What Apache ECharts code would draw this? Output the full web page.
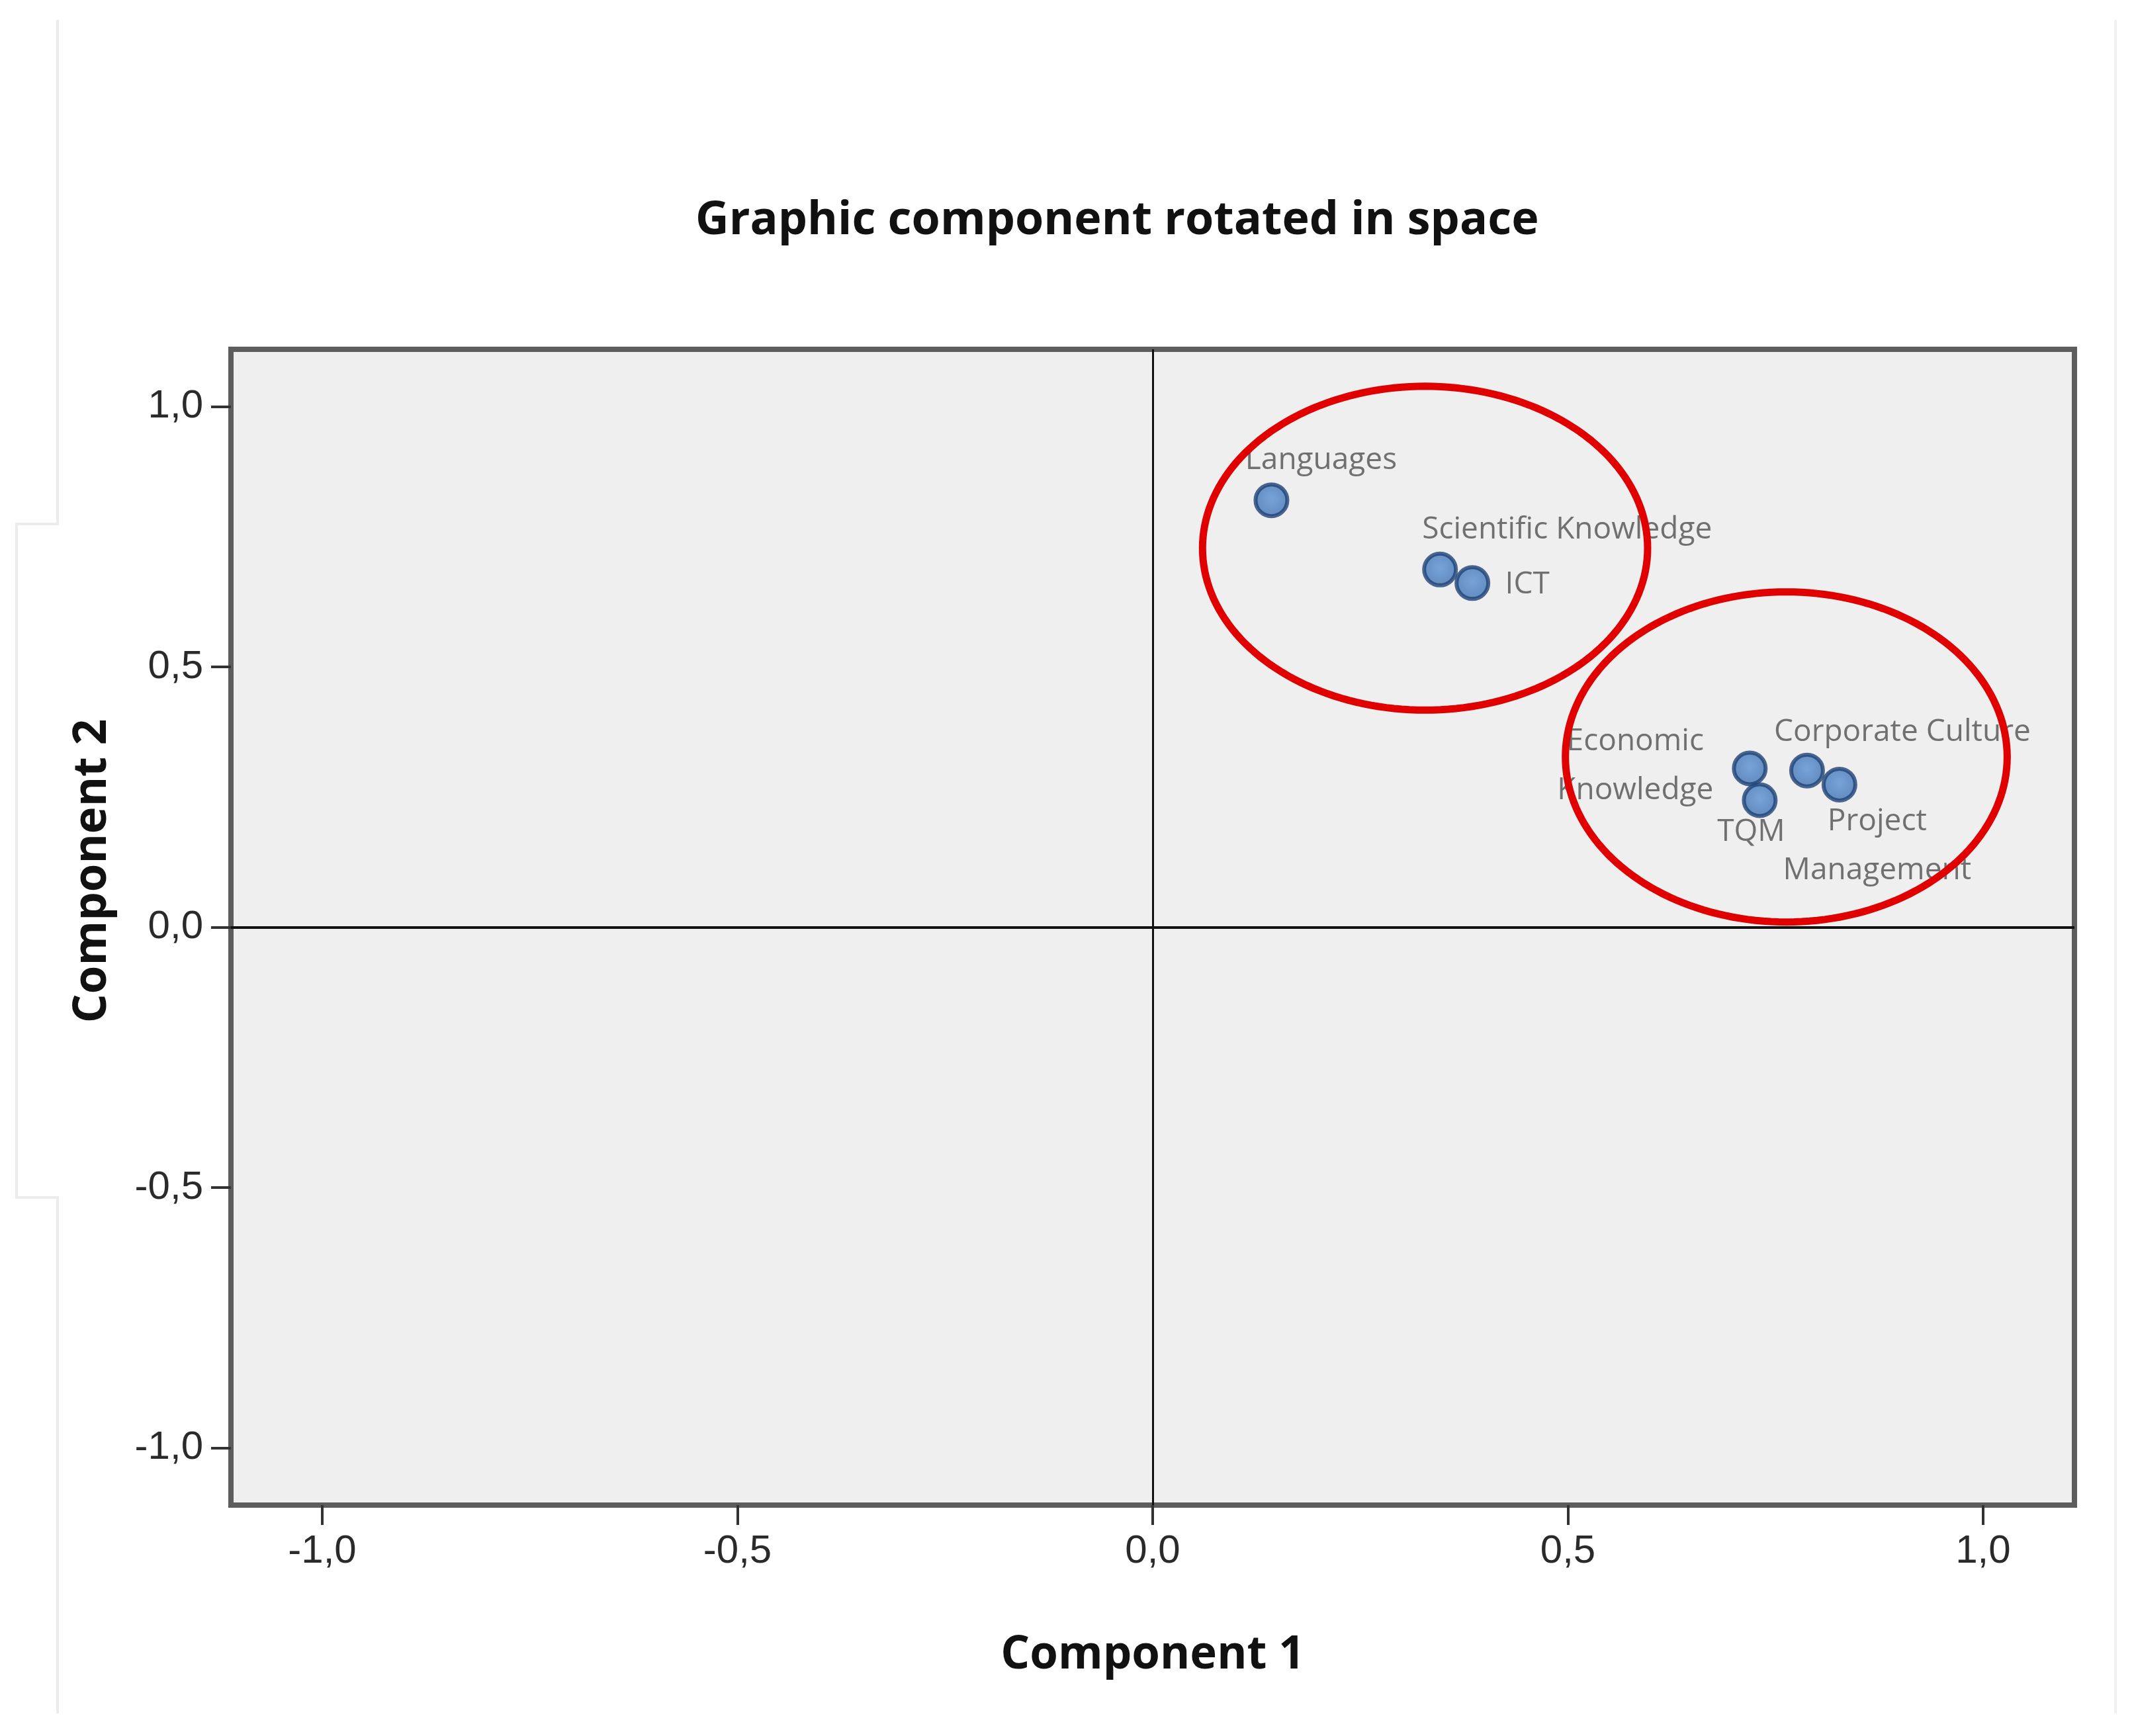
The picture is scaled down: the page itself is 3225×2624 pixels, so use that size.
<!DOCTYPE html>
<html>
<head>
<meta charset="utf-8" />
<title>Graphic component rotated in space</title>
<script src="https://cdn.jsdelivr.net/npm/echarts@6/dist/echarts.min.js"></script>
<style>
  html, body { margin: 0; padding: 0; background: #fff; }
  #main { width: 3225px; height: 2624px; }
</style>
</head>
<body>
<div id="main"></div>
<script>
// loadings
var itemNames = ["Languages", "Scientific Knowledge", "ICT", "Economic\nKnowledge", "TQM", "Corporate Culture", "Project\nManagement"];
var component1 = [0.143, 0.346, 0.385, 0.719, 0.731, 0.788, 0.827];
var component2 = [0.820, 0.687, 0.661, 0.305, 0.244, 0.301, 0.274];

var tickValues = [-1, -0.5, 0, 0.5, 1];
var tickLabels = ["-1,0", "-0,5", "0,0", "0,5", "1,0"];

// the two red rings (centre and radii in axis units)
var ringCx = [0.328, 0.763];
var ringCy = [0.728, 0.327];
var ringRx = [0.268, 0.266];
var ringRy = [0.311, 0.317];

// where each point label sits relative to its point (px)
var labelOffset = {
  "Languages": [75, -60],
  "Scientific Knowledge": [192, -60],
  "ICT": [83, 3],
  "Economic\nKnowledge": [-173, -4],
  "TQM": [-13, 48],
  "Corporate Culture": [144, -58],
  "Project\nManagement": [57, 93]
};

function tickFmt(v) {
  var i = tickValues.indexOf(Math.round(v * 10) / 10);
  return i >= 0 ? tickLabels[i] : "";
}

var points = itemNames.map(function (n, i) {
  return { name: n, value: [component1[i], component2[i]], label: { offset: labelOffset[n] } };
});
var rings = ringCx.map(function (c, i) {
  return [c, ringCy[i], ringRx[i], ringRy[i]];
});

var chart = echarts.init(document.getElementById("main"), null, { renderer: "canvas" });

var option = {
  animation: false,
  backgroundColor: "#ffffff",
  title: {
    text: "Graphic component rotated in space",
    left: 1046,
    top: 294,
    textStyle: { fontFamily: "Open Sans", fontWeight: "bold", fontSize: 70, color: "#111" }
  },
  grid: {
    left: 349, top: 528, width: 2786, height: 1747,
    show: true,
    backgroundColor: "#efefef",
    borderColor: "#5d5d5d",
    borderWidth: 8,
    outerBoundsMode: "none"
  },
  xAxis: {
    type: "value",
    min: -1.11, max: 1.11,
    position: "bottom",
    axisLine: { show: false, onZero: false },
    splitLine: { show: false },
    axisTick: { show: true, inside: false, customValues: tickValues, length: 30, lineStyle: { color: "#333", width: 4 } },
    axisLabel: { customValues: tickValues, formatter: tickFmt, margin: 40, fontSize: 60, fontFamily: "Liberation Sans", color: "#2a2a2a" },
    name: "Component 1",
    nameLocation: "middle",
    nameGap: 193,
    nameTextStyle: { fontFamily: "Open Sans", fontWeight: "bold", fontSize: 69, color: "#111" }
  },
  yAxis: {
    type: "value",
    min: -1.11, max: 1.11,
    position: "left",
    axisLine: { show: false, onZero: false },
    splitLine: { show: false },
    axisTick: { show: true, inside: false, customValues: tickValues, length: 30, lineStyle: { color: "#333", width: 4 } },
    axisLabel: { customValues: tickValues, formatter: tickFmt, margin: 42, fontSize: 60, fontFamily: "Liberation Sans", color: "#2a2a2a" },
    name: "Component 2",
    nameLocation: "middle",
    nameGap: 174,
    nameTextStyle: { fontFamily: "Open Sans", fontWeight: "bold", fontSize: 69, color: "#111", padding: [0, 0, 0, 170] }
  },
  graphic: [
    { type: "polyline", silent: true, shape: { points: [[87, 30], [87, 792], [25, 792], [25, 1810], [87, 1810], [87, 2590]] }, style: { stroke: "#ececec", lineWidth: 4, fill: null } },
    { type: "line", silent: true, shape: { x1: 3197, y1: 30, x2: 3197, y2: 2590 }, style: { stroke: "#f1f1f1", lineWidth: 4 } }
  ],
  series: [
    {
      type: "scatter",
      data: points,
      symbol: "circle",
      symbolSize: 48,
      itemStyle: {
        color: {
          type: "radial", x: 0.5, y: 0.45, r: 0.6,
          colorStops: [{ offset: 0, color: "#5890d4" }, { offset: 1, color: "#3b6dac" }]
        },
        borderColor: "#1f4274",
        borderWidth: 6
      },
      label: {
        show: true,
        position: "inside",
        formatter: "{b}",
        fontFamily: "Open Sans",
        fontSize: 46,
        lineHeight: 74,
        color: "#505050",
        align: "center"
      },
      markLine: {
        silent: true,
        symbol: ["none", "none"],
        label: { show: false },
        lineStyle: { color: "#111", type: "solid", width: 4 },
        data: [{ xAxis: 0, lineStyle: { width: 3 } }, { yAxis: 0 }]
      },
      z: 3
    },
    {
      type: "custom",
      data: rings,
      silent: true,
      clip: false,
      z: 6,
      renderItem: function (params, api) {
        var cx = api.value(0), cy = api.value(1), rx = api.value(2), ry = api.value(3);
        var pts = [];
        for (var k = 0; k < 180; k++) {
          var t = k / 180 * 2 * Math.PI;
          pts.push(api.coord([cx + rx * Math.cos(t), cy + ry * Math.sin(t)]));
        }
        return {
          type: "polygon",
          shape: { points: pts },
          style: { fill: "none", stroke: "#e00000", lineWidth: 11 }
        };
      }
    }
  ]
};

chart.setOption(option);
</script>
</body>
</html>
